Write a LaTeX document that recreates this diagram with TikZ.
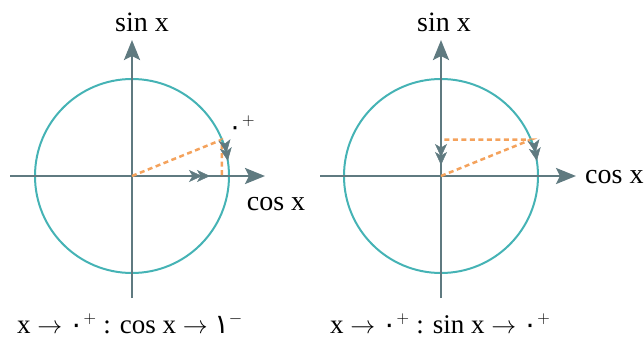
\documentclass[tikz,border=0pt]{standalone}
\usepackage{fontspec}
\setmainfont{Liberation Serif}
\newfontfamily\arabdigits{DejaVu Sans}
\usetikzlibrary{arrows.meta}
\definecolor{axiscol}{HTML}{5F7A80}
\definecolor{circcol}{HTML}{45B3B5}
\definecolor{dashcol}{HTML}{F4A25C}
\tikzset{
  axisline/.style={draw=axiscol, line width=2.6pt, -{Stealth[length=20pt,width=16pt,inset=4pt]}},
  unitcirc/.style={draw=circcol, line width=2pt},
  guide/.style={draw=dashcol, line width=2.5pt, dash pattern=on 5pt off 3.5pt},
  lbl/.style={inner sep=0pt, anchor=base, font=\fontsize{28}{30}\selectfont},
  btm/.style={inner sep=0pt, anchor=base west, font=\fontsize{27}{30}\selectfont},
  dblhead/.style={-{Stealth[length=13pt,width=12pt,inset=3.5pt,sep=-5pt,color=axiscol,line width=0.5pt]Stealth[length=13pt,width=12pt,inset=3.5pt,color=axiscol,line width=0.5pt]}}
}
\begin{document}
\begin{tikzpicture}[x=1pt,y=1pt]
\useasboundingbox (0,0) rectangle (644,341);
% ---------- left diagram ----------
\coordinate (O1) at (132,165);
\coordinate (L1w) at (10,165);
\coordinate (L1e) at (265,165);
\coordinate (L1s) at (132,43);
\coordinate (L1n) at (132,301);
\draw[unitcirc] (O1) circle[radius=97];
\draw[axisline] (L1w) -- (L1e);
\draw[axisline] (L1s) -- (L1n);
\path (O1) ++(22:97) coordinate (P1);
\coordinate (F1) at (P1 |- O1);
\draw[guide] (O1) -- (P1) -- (F1);
\coordinate (A1s) at (182,165);
\coordinate (A1e) at (210,165);
\draw[draw=axiscol, line width=2.6pt, dblhead] (A1s) -- (A1e);
\draw[unitcirc, dblhead] (P1) arc[start angle=22, end angle=9, radius=97];
\node[inner sep=0pt, anchor=base west, font=\fontsize{26}{28}\selectfont] (z1) at (228,206) {{\arabdigits ٠}$^{+}$};
\node[lbl] (sin1) at (142,310) {sin x};
\node[lbl] (cos1) at (276,131) {cos x};
\node[btm] (t1) at (17,8) {x $\rightarrow$ {\arabdigits ٠}$^{+}$ : cos x $\rightarrow$ {\arabdigits ١}$^{-}$};
% ---------- right diagram ----------
\coordinate (O2) at (441,165);
\coordinate (L2w) at (320,165);
\coordinate (L2e) at (576,165);
\coordinate (L2s) at (441,43);
\coordinate (L2n) at (441,301);
\draw[unitcirc] (O2) circle[radius=97];
\draw[axisline] (L2w) -- (L2e);
\draw[axisline] (L2s) -- (L2n);
\path (O2) ++(22:97) coordinate (P2);
\coordinate (F2) at (O2 |- P2);
\draw[guide] (O2) -- (P2) -- (F2);
\coordinate (A2s) at (441,204);
\coordinate (A2e) at (441,176);
\draw[draw=axiscol, line width=2.6pt, dblhead] (A2s) -- (A2e);
\draw[unitcirc, dblhead] (P2) arc[start angle=22, end angle=9, radius=97];
\node[lbl] (sin2) at (444,310) {sin x};
\node[lbl, anchor=base west] (cos2) at (585,158) {cos x};
\node[btm] (t2) at (330,8) {x $\rightarrow$ {\arabdigits ٠}$^{+}$ : sin x $\rightarrow$ {\arabdigits ٠}$^{+}$};
\end{tikzpicture}
\end{document}
